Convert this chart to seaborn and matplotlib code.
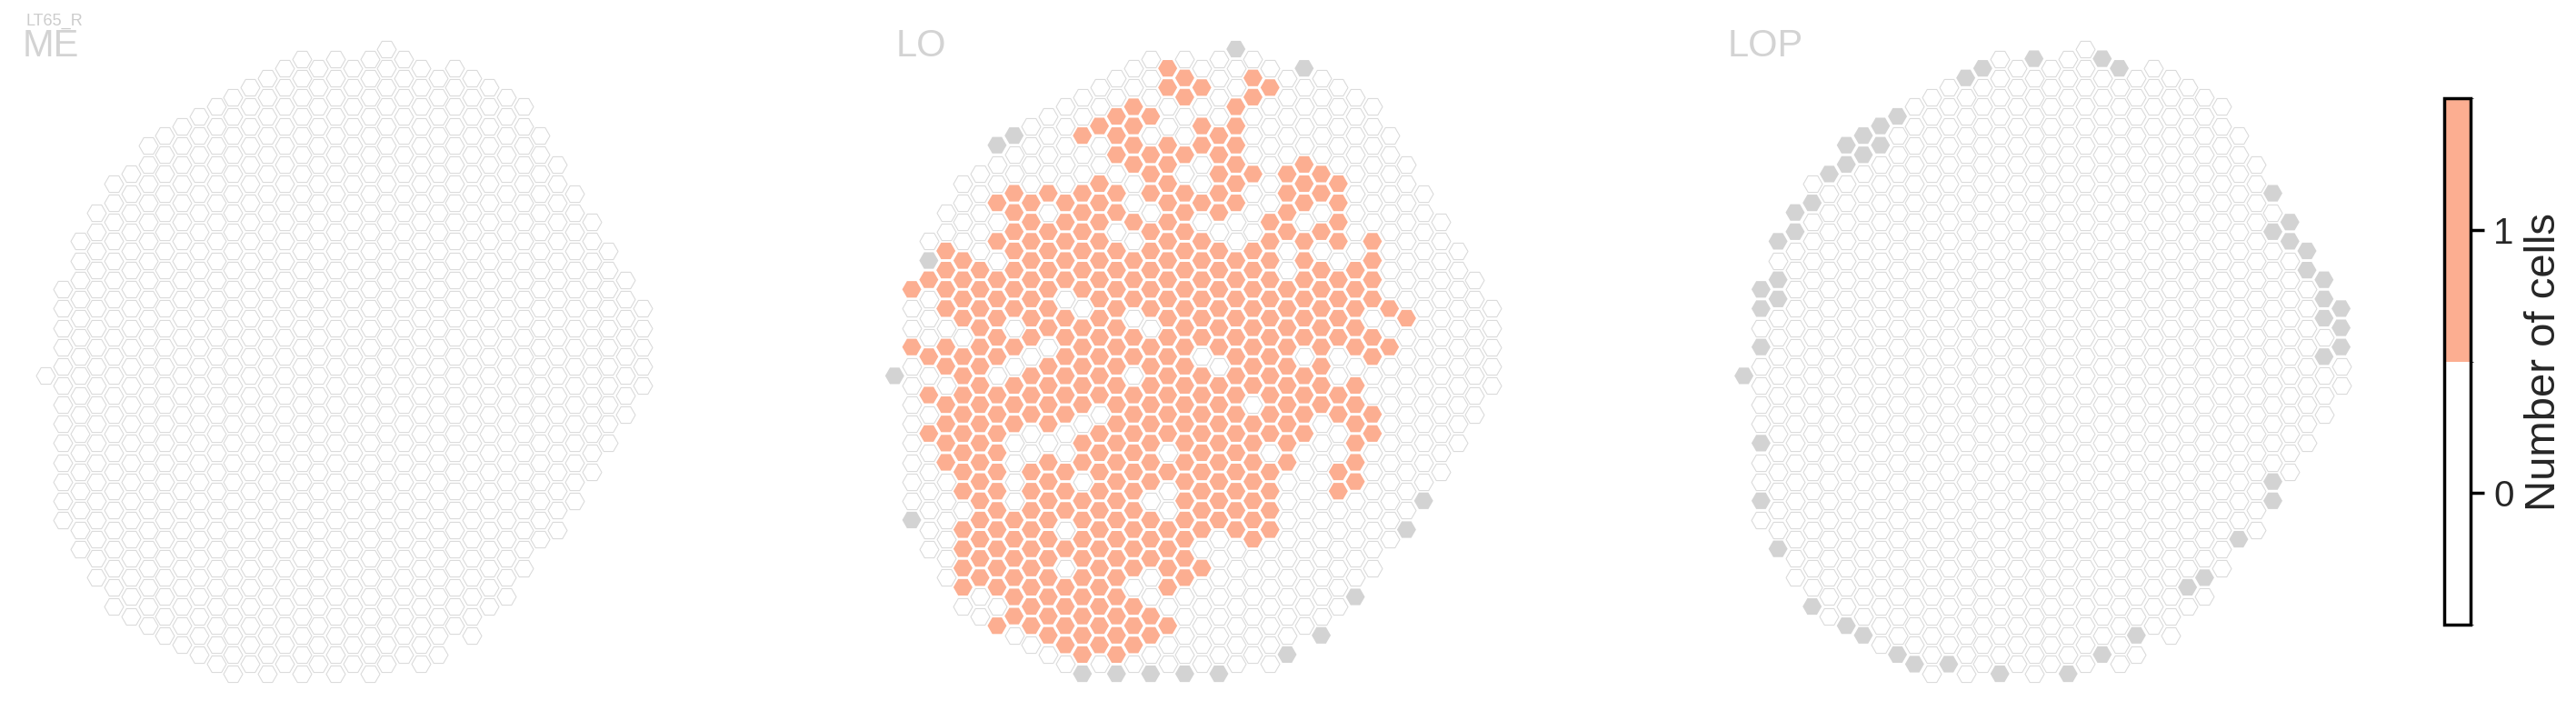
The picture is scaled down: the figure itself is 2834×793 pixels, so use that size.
import re
import numpy as np
import pandas as pd
import matplotlib
matplotlib.use("Agg")
import matplotlib as mpl
import matplotlib.pyplot as plt
import seaborn as sns

# ---------------- data ----------------
SUPTITLE = "LT65_R"
PANELS = ["ME", "LO", "LOP"]
CBAR_LABEL = "Number of cells"
CBAR_TICKS = [0, 1]

# hex eye map: for each column, first and last half-row index (rows step by 2)
COL_TOP = [34, 25, 20, 17, 14, 13, 10, 9, 8, 7, 6, 5, 4, 3, 2, 1, 2, 1,
           2, 1, 0, 1, 2, 3, 2, 3, 4, 5, 6, 9, 12, 15, 18, 21, 24, 27]
COL_BOTTOM = [34, 49, 52, 55, 58, 59, 60, 61, 62, 63, 64, 65, 64, 65, 64, 65, 64, 65,
              64, 65, 64, 63, 64, 63, 60, 61, 58, 57, 54, 51, 50, 47, 44, 41, 38, 35]

# LO: run-length coded column states from top to bottom
# o = 0 cells, x = 1 cell, g = no column
LO_COLUMNS = [
    "1g", "1x2o1x8o1g", "1o1g1x3o1x1o1x1o1x6o", "2o4x1o2x1o4x6o",
    "4o4x1o8x1o4x1o", "5o17x2o", "1g2o1x1o1x1o5x1o11x1o1x",
    "1g2o7x1o1x1o3x4o6x1o", "4o8x1o3x2o9x1o", "4o1x1o6x1o4x1o10x1o",
    "5o5x1o6x2o3x1o1x1o4x1o", "2o1x2o6x1o5x1o2x1o9x1g", "2o1x2o12x1o12x1o",
    "2o3x1o2x1o22x1g", "2o4x2o1x1o3x1o2x1o10x1o3x1o",
    "3o1x1o3x1o5x1o8x1o3x2o2x1o1g", "2x2o16x1o1x2o4x1o1x2o",
    "1o2x2o1x1o21x4o1g", "1o1x1o2x2o1x1o6x1o9x1o1x5o", "4o5x1o6x1o8x7o1g",
    "1g2o6x2o15x7o", "1o2x3o1x3o8x1o7x6o", "1o1x6o12x1o4x7o", "5o4x2o10x9o1g",
    "1g4o3x1o6x1o4x10o", "5o2x1o1x1o8x11o1g", "5o4x1o4x2o2x2o2x6o",
    "9o5x1o6x5o1g", "7o4x1o2x2o2x7o", "9o1x1o1x10o", "8o1x10o1g", "16o1g",
    "14o", "11o", "8o", "5o",
]

# LOP: columns without data (col, half-row)
LOP_MISSING = [
    (0, 34), (1, 25), (1, 27), (1, 31), (2, 20), (2, 24), (2, 26), (3, 17), (3, 19),
    (4, 16), (5, 13), (6, 10), (6, 12), (7, 9), (7, 11), (8, 8), (8, 10), (9, 7),
    (13, 3), (14, 2), (17, 1), (21, 1), (22, 2),
    (31, 15), (31, 19), (32, 18), (32, 20), (33, 21), (33, 23), (34, 24), (34, 26),
    (34, 28), (34, 32), (35, 27), (35, 29), (35, 31),
    (1, 41), (1, 47), (2, 52), (4, 58), (6, 60), (7, 61), (9, 63), (10, 64), (12, 64),
    (15, 65), (19, 65), (21, 63), (23, 61), (26, 56), (27, 55), (29, 51), (31, 47),
    (31, 45),
]

STATE_CODE = {"o": "zero", "x": "one", "g": "na"}

# ---------------- build table ----------------
def column_rows(c):
    return list(range(COL_TOP[c], COL_BOTTOM[c] + 1, 2))

def decode(rle):
    out = ""
    for n, ch in re.findall(r"(\d+)([oxg])", rle):
        out += ch * int(n)
    return out

records = []
for c in range(len(COL_TOP)):
    rows = column_rows(c)
    lo = decode(LO_COLUMNS[c])
    lo = (lo + "o" * len(rows))[:len(rows)]
    for i, w in enumerate(rows):
        records.append(("ME", c, w, "zero"))
        records.append(("LO", c, w, STATE_CODE[lo[i]]))
        records.append(("LOP", c, w, "na" if (c, w) in LOP_MISSING else "zero"))
df = pd.DataFrame(records, columns=["panel", "col", "row", "state"])

# ---------------- style ----------------
sns.set_style("white")
plt.rcParams["font.family"] = ["Liberation Sans", "DejaVu Sans"]

W, H, DPI = 2834, 793, 100
fig = plt.figure(figsize=(W / DPI, H / DPI), dpi=DPI)

DX, DY = 18.77, 10.57          # pixel spacing per column / half-row
Y0 = 54                        # pixel of half-row 0
PANEL_X0 = [50, 984.3, 1918.6]
TITLE_X = [25, 986, 1901]
HEX_R = 10.5                   # px
S = (2 * HEX_R * 72 / DPI) ** 2

STYLE = {
    "zero": dict(color="white", edgecolor="#D9D9D9", linewidth=0.75),
    "one": dict(color="#FCAE91", edgecolor="none", linewidth=0),
    "na": dict(color="#D3D3D3", edgecolor="none", linewidth=0),
}

ncol = len(COL_TOP)
for k, name in enumerate(PANELS):
    L = PANEL_X0[k] - 30
    R = PANEL_X0[k] + (ncol - 1) * DX + 30
    T, B = 20, 775
    ax = fig.add_axes([L / W, 1 - B / H, (R - L) / W, (B - T) / H])
    d = df[df.panel == name]
    for state in ["zero", "one", "na"]:
        sub = d[d.state == state]
        if len(sub) == 0:
            continue
        sns.scatterplot(data=sub, x="col", y="row", marker="H", s=S,
                        legend=False, ax=ax, **STYLE[state])
    ax.set_xlim((L - PANEL_X0[k]) / DX, (R - PANEL_X0[k]) / DX)
    ax.set_ylim((B - Y0) / DY, (T - Y0) / DY)
    ax.set_axis_off()
    fig.text(TITLE_X[k] / W, 1 - 62 / H, name, fontsize=30, color="#D3D3D3",
             ha="left", va="baseline")

fig.text(28 / W, 1 - 28 / H, SUPTITLE, fontsize=13, color="#CCCCCC",
         ha="left", va="baseline")

# ---------------- colour bar ----------------
cax = fig.add_axes([2689 / W, 1 - 687 / H, 29 / W, (687 - 108) / H])
cmap = mpl.colors.ListedColormap(["white", "#FCAE91"])
norm = mpl.colors.BoundaryNorm([-0.5, 0.5, 1.5], cmap.N)
cb = mpl.colorbar.ColorbarBase(cax, cmap=cmap, norm=norm, ticks=CBAR_TICKS,
                               orientation="vertical")
cb.outline.set_linewidth(2.5)
cb.outline.set_edgecolor("black")
cax.tick_params(length=11, width=2.5, labelsize=29, pad=7, color="black")
cb.set_label(CBAR_LABEL, fontsize=34, labelpad=8)

fig.savefig("out.png", dpi=DPI, facecolor="white")
